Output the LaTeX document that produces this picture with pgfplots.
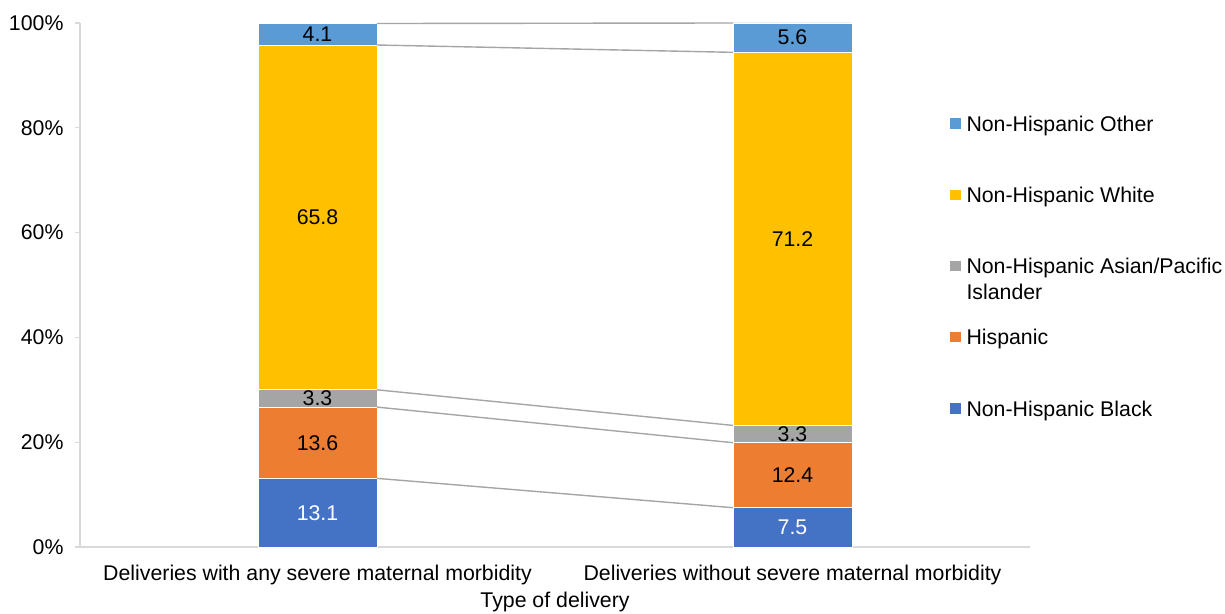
\documentclass[border=0pt]{standalone}
\usepackage{pgfplots}
\pgfplotsset{compat=1.18}
\usepackage{fontspec}
\setmainfont{Liberation Sans}

\definecolor{cBlack}{HTML}{4472C4}
\definecolor{cHisp}{HTML}{ED7D31}
\definecolor{cAsian}{HTML}{A5A5A5}
\definecolor{cWhite}{HTML}{FFC000}
\definecolor{cOther}{HTML}{5B9BD5}
\definecolor{axisgray}{HTML}{D9D9D9}
\definecolor{linegray}{HTML}{A5A5A5}

\newcommand{\lbl}{\fontsize{21.3}{25.6}\selectfont}

\pgfplotsset{
  sq legend/.style={legend image code/.code={%
    \fill[##1,draw=none] (0pt,-4.5pt) rectangle (11pt,6pt);
    \path (14pt,0pt);}},
  common/.style={
    at={(80pt,66pt)}, anchor=south west,
    width=950pt, height=524pt, scale only axis,
    xmin=-0.5, xmax=1.5, ymin=0, ymax=100,
  },
}

\begin{document}
\begin{tikzpicture}
\useasboundingbox (0,0) rectangle (1225pt,613pt);

% stacked bars
\begin{axis}[
  common,
  ybar stacked, bar width=118.75pt,
  axis lines*=left,
  axis line style={draw=axisgray, line width=1.5pt},
  xtick={0,1},
  xticklabels={Deliveries with any severe maternal morbidity, Deliveries without severe maternal morbidity},
  x tick style={draw=none},
  ytick={0,20,40,60,80,100},
  tick align=outside, major tick length=5pt,
  y tick style={draw=axisgray, line width=1.2pt},
  yticklabel={\pgfmathprintnumber{\tick}\%},
  /pgf/number format/assume math mode=true,
  tick label style={font=\lbl},
  yticklabel style={anchor=east, xshift=-8pt},
  xticklabel style={anchor=base, yshift=-28pt},
  xlabel={Type of delivery},
  xlabel style={font=\lbl, at={(axis description cs:0.5,0)}, anchor=base, yshift=-60pt},
  legend cell align=left,
  reverse legend,
  legend style={at={(0.9158,0.8267)}, anchor=north west, draw=none, fill=none,
    inner sep=0pt, row sep=50.2pt, font=\lbl},
]
\addplot[fill=cBlack, draw=white, line width=0.6pt, sq legend] coordinates {(0,13.1) (1,7.5)};
\addlegendentry{Non-Hispanic Black}
\addplot[fill=cHisp, draw=white, line width=0.6pt, sq legend] coordinates {(0,13.6) (1,12.4)};
\addlegendentry{Hispanic}
\addplot[fill=cAsian, draw=white, line width=0.6pt, sq legend] coordinates {(0,3.3) (1,3.3)};
\addlegendentry{\raisebox{0pt}[15.5pt][4.5pt]{\begin{tabular}[t]{@{}l@{}}Non-Hispanic Asian/Pacific\\[0.4pt]Islander\end{tabular}}}
\addplot[fill=cWhite, draw=white, line width=0.6pt, sq legend] coordinates {(0,65.8) (1,71.2)};
\addlegendentry{Non-Hispanic White}
\addplot[fill=cOther, draw=white, line width=0.6pt, sq legend] coordinates {(0,4.1) (1,5.6)};
\addlegendentry{Non-Hispanic Other}
\end{axis}

% series lines and data labels
\begin{axis}[
  common,
  hide axis,
]
\addplot[linegray, line width=1.4pt] coordinates {(0.125,13.1) (0.875,7.5)};
\addplot[linegray, line width=1.4pt] coordinates {(0.125,26.7) (0.875,19.9)};
\addplot[linegray, line width=1.4pt] coordinates {(0.125,30.0) (0.875,23.2)};
\addplot[linegray, line width=1.4pt] coordinates {(0.125,95.8) (0.875,94.4)};
\addplot[linegray, line width=1.4pt] coordinates {(0.125,99.9) (0.875,100)};

\addplot[draw=none, mark=none, nodes near coords, point meta=explicit symbolic,
  every node near coord/.style={anchor=center, font=\lbl, text=white}]
  coordinates {(0,6.55)[13.1] (1,3.75)[7.5]};
\addplot[draw=none, mark=none, nodes near coords, point meta=explicit symbolic,
  every node near coord/.style={anchor=center, font=\lbl, text=black}]
  coordinates {(0,19.9)[13.6] (1,13.7)[12.4]
               (0,28.35)[3.3] (1,21.55)[3.3]
               (0,62.9)[65.8] (1,58.8)[71.2]
               (0,97.85)[4.1] (1,97.2)[5.6]};
\end{axis}
\end{tikzpicture}
\end{document}
